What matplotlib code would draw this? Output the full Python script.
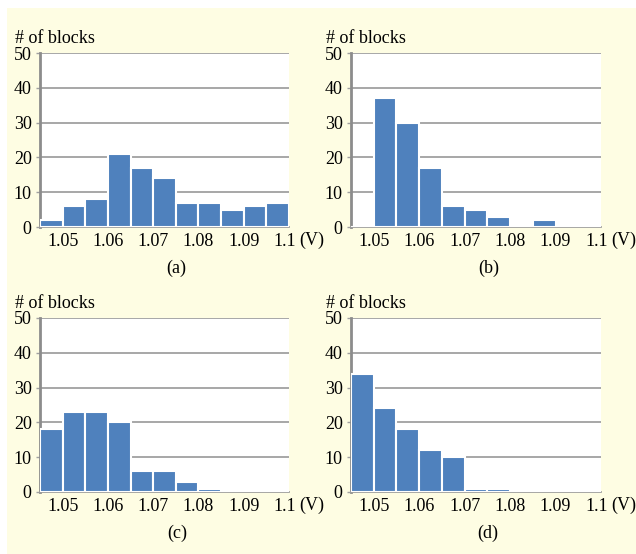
import matplotlib
matplotlib.use("Agg")
import matplotlib.pyplot as plt
import matplotlib.transforms as mtrans
import numpy as np
from matplotlib.patches import Rectangle

# Data: counts per 0.005 V bin, bins starting at 1.045 V
bin_edges = [1.045, 1.05, 1.055, 1.06, 1.065, 1.07, 1.075, 1.08, 1.085, 1.09, 1.095, 1.1]
counts_a = [2, 6, 8, 21, 17, 14, 7, 7, 5, 6, 7]
counts_b = [0, 37, 30, 17, 6, 5, 3, 0, 2, 0, 0]
counts_c = [18, 23, 23, 20, 6, 6, 3, 1, 0, 0, 0]
counts_d = [34, 24, 18, 12, 10, 1, 1, 0, 0, 0, 0]
panel_labels = ["(a)", "(b)", "(c)", "(d)"]
x_ticks = [1.05, 1.06, 1.07, 1.08, 1.09, 1.1]
x_ticklabels = ["1.05", "1.06", "1.07", "1.08", "1.09", "1.1"]
y_ticks = [0, 10, 20, 30, 40, 50]
y_label = "# of blocks"
unit_label = "(V)"

W, H = 636, 554
fig = plt.figure(figsize=(W / 100, H / 100), dpi=100)
fig.patch.set_facecolor("white")
fig.patches.append(Rectangle((7 / W, 0), 1 - 7 / W, 1 - 8 / H, transform=fig.transFigure,
                             facecolor="#fefde3", edgecolor="none", zorder=-10))

font = "Liberation Serif"
fs = 13
bar_color = "#4f81bd"
grid_color = "#a0a0a0"

# axes boxes in pixels: (left, top, right, bottom)
boxes = [(40, 53, 289, 227), (351, 53, 601, 227), (40, 318, 289, 492), (351, 318, 601, 492)]
all_counts = [counts_a, counts_b, counts_c, counts_d]
label_pos = [(176, 268), (489, 268), (177, 533), (488, 533)]

widths = np.diff(bin_edges)
for (l, t, r, b), counts, plab, (lx, ly) in zip(boxes, all_counts, panel_labels, label_pos):
    ax = fig.add_axes([l / W, 1 - b / H, (r - l) / W, (b - t) / H])
    ax.set_facecolor("white")
    ax.bar(bin_edges[:-1], counts, width=widths, align="edge", color=bar_color,
           edgecolor="white", linewidth=1.5, zorder=3)
    ax.set_xlim(bin_edges[0], bin_edges[-1])
    ax.set_ylim(0, 50)
    ax.set_yticks(y_ticks)
    ax.set_yticklabels([str(v) for v in y_ticks], fontfamily=font, fontsize=fs)
    ax.set_xticks(x_ticks)
    ax.set_xticklabels(x_ticklabels, fontfamily=font, fontsize=fs)
    ax.tick_params(axis="x", length=0, pad=4)
    ax.tick_params(axis="y", length=3, width=1, color=grid_color, pad=3)
    last = ax.get_xticklabels()[-1]
    last.set_transform(last.get_transform() +
                       mtrans.ScaledTranslation(-4 / 100, 0, fig.dpi_scale_trans))
    ax.grid(axis="y", color=grid_color, linewidth=1.3, zorder=0)
    ax.set_axisbelow(True)
    for s in ["top", "right"]:
        ax.spines[s].set_visible(False)
    ax.spines["left"].set_color("#8c8c8c")
    ax.spines["left"].set_linewidth(2)
    ax.spines["bottom"].set_color(grid_color)
    ax.spines["bottom"].set_linewidth(1.3)
    fig.text((l - 25) / W, 1 - (t - 10) / H, y_label,
             fontfamily=font, fontsize=fs, ha="left", va="baseline")
    fig.text((r + 10) / W, 1 - (b + 13) / H, unit_label, fontfamily=font, fontsize=fs,
             ha="left", va="center")
    fig.text(lx / W, 1 - ly / H, plab, fontfamily=font, fontsize=fs, ha="center", va="center")

fig.savefig("out.png", dpi=100, facecolor=fig.get_facecolor())
